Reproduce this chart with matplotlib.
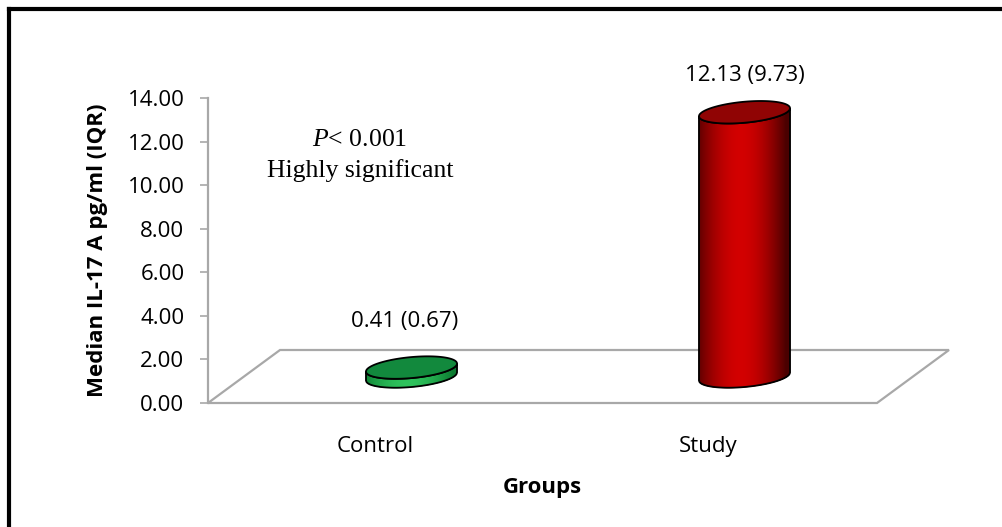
import numpy as np
import matplotlib
matplotlib.use('Agg')
import matplotlib.pyplot as plt
from matplotlib.collections import PolyCollection
from matplotlib.patches import Polygon
from matplotlib.lines import Line2D
from matplotlib.transforms import IdentityTransform

groups = ['Control', 'Study']
medians = [0.41, 12.13]
iqrs = [0.67, 9.73]
yticks = [0, 2, 4, 6, 8, 10, 12, 14]

plt.rcParams['font.family'] = 'Open Sans'
plt.rcParams['mathtext.fontset'] = 'custom'
plt.rcParams['mathtext.it'] = 'Liberation Serif:italic'
plt.rcParams['mathtext.rm'] = 'Liberation Serif'

GRAY = '#a8a8a8'
W, H = 1003, 527
DEPTH = np.array([72.0, 53.0])      # floor depth offset in pixels
RX, RY, TILT = 45.5, 10.5, 0.088    # cylinder ellipse radii and tilt

fig = plt.figure(figsize=(W / 100, H / 100), dpi=100)
ax = fig.add_axes([208 / W, 124 / H, 669 / W, 305 / H])
ax.set_xlim(-0.503, 1.506)
ax.set_ylim(0, 14)
for s in ('top', 'right', 'bottom'):
    ax.spines[s].set_visible(False)
ax.spines['left'].set_color(GRAY)
ax.spines['left'].set_linewidth(1.6)
ax.set_yticks(yticks)
ax.set_yticklabels(['%.2f' % v for v in yticks], fontsize=16)
ax.tick_params(axis='y', length=6, width=1.2, color=GRAY, pad=11)
ax.set_xticks(range(len(groups)))
ax.set_xticklabels(groups, fontsize=16)
ax.tick_params(axis='x', length=0, pad=24)
ax.set_ylabel('Median IL-17 A pg/ml (IQR)', fontsize=16, fontweight='bold', labelpad=14)
ax.set_xlabel('Groups', fontsize=16, fontweight='bold', labelpad=14)

tr = ax.transData
ID = IdentityTransform()

# 3-D floor at value 0
f0 = tr.transform((ax.get_xlim()[0], 0))
f1 = tr.transform((ax.get_xlim()[1], 0))
floor = np.array([f0, f1, f1 + DEPTH, f0 + DEPTH])
fig.add_artist(Polygon(floor, closed=True, fc='white', ec=GRAY, lw=1.6,
                       transform=ID, zorder=1))


def cylinder(i, value, dark, light, top, zorder=2):
    base = tr.transform((i, 0)) + DEPTH / 2
    top_y = tr.transform((i, value))[1] + DEPTH[1] / 2
    cx, by = base
    u = np.linspace(-RX, RX, 181)
    s = RY * np.sqrt(np.clip(1 - (u / RX) ** 2, 0, 1))
    yb = by - s + TILT * u
    yt = top_y - s + TILT * u
    # shaded side, drawn as thin vertical strips
    dark, light = np.array(matplotlib.colors.to_rgb(dark)), np.array(matplotlib.colors.to_rgb(light))
    polys, cols = [], []
    for j in range(len(u) - 1):
        polys.append([(cx + u[j], yb[j]), (cx + u[j + 1], yb[j + 1]),
                      (cx + u[j + 1], yt[j + 1]), (cx + u[j], yt[j])])
        t = (u[j] + u[j + 1]) / (2 * RX) + 0.08
        f = np.clip(np.cos(np.clip(t, -1, 1) * np.pi / 2), 0, 1) ** 0.9
        cols.append(dark + (light - dark) * f)
    fig.add_artist(PolyCollection(polys, facecolors=cols, edgecolors=cols, lw=0.6,
                                  transform=ID, zorder=zorder))
    outline = np.concatenate([np.c_[cx + u, yb], np.c_[cx + u[::-1], yt[::-1]]])
    fig.add_artist(Polygon(outline, closed=True, fill=False, ec='black', lw=1.3,
                           transform=ID, zorder=zorder + 0.1))
    # top ellipse
    ang = np.linspace(0, 2 * np.pi, 200)
    ex = RX * np.cos(ang)
    ey = top_y + RY * np.sin(ang) + TILT * ex
    fig.add_artist(Polygon(np.c_[cx + ex, ey], closed=True, fc=top, ec='black', lw=1.3,
                           transform=ID, zorder=zorder + 0.2))


cylinder(0, medians[0], '#0b7a30', '#2ec25c', '#12893d')
cylinder(1, medians[1], '#4a0000', '#d20000', '#900404')

lab_pos = [(0.086, 3.75), (1.108, 15.05)]
for (x, y), m, q in zip(lab_pos, medians, iqrs):
    ax.text(x, y, '%.2f (%.2f)' % (m, q), ha='center', va='center', fontsize=16,
            clip_on=False)

ax.text(-0.047, 12.07, '$P$< 0.001', ha='center', va='center', fontsize=18.5,
        family='Liberation Serif')
ax.text(-0.047, 10.65, 'Highly significant', ha='center', va='center', fontsize=18.5,
        family='Liberation Serif')

# outer frame (left and top edges)
fig.add_artist(Line2D([9 / W, 9 / W], [0, 1 - 9 / H], color='black', lw=3))
fig.add_artist(Line2D([9 / W, 1], [1 - 9 / H, 1 - 9 / H], color='black', lw=3))

fig.savefig('out.png', dpi=100)
